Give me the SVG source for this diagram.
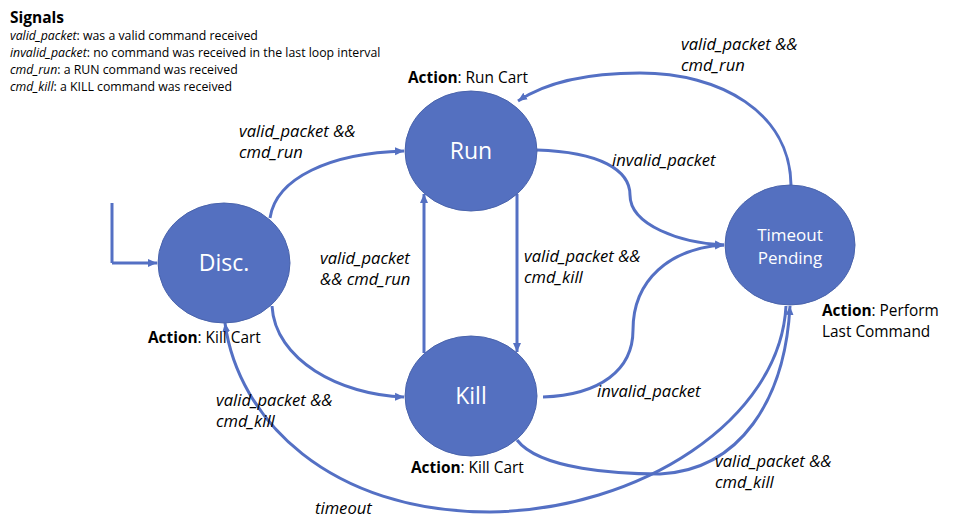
<svg xmlns="http://www.w3.org/2000/svg" width="957" height="530" viewBox="0 0 957 530">
<defs>
<marker id="arr" markerWidth="10" markerHeight="10" refX="9" refY="5" orient="auto" markerUnits="userSpaceOnUse">
<path d="M0,1 L9,5 L0,9 Z" fill="#5470C2"/>
</marker>
<style>
.node{fill:#5470C0;stroke:#4A64AC;stroke-width:1}
.nl{font-family:"Open Sans","Noto Sans","Liberation Sans",sans-serif;fill:#fff;text-anchor:middle}
.edge{fill:none;stroke:#5470C4;stroke-width:3;marker-end:url(#arr)}
.plain{fill:none;stroke:#5470C4;stroke-width:3}
.lbl{font-family:"Open Sans","Noto Sans","Liberation Sans",sans-serif;font-style:italic;font-size:16.6px;fill:#000}
.act{font-family:"Open Sans","Noto Sans","Liberation Sans",sans-serif;font-size:15.4px;fill:#000}
.sig{font-family:"Open Sans","Noto Sans","Liberation Sans",sans-serif;font-size:12.3px;fill:#000}
</style>
</defs>
<rect width="957" height="530" fill="#fff"/>

<g id="legend">
<text x="10" y="23" class="sig" style="font-size:15.5px;font-weight:bold">Signals</text>
<text x="10" y="40" class="sig"><tspan font-style="italic">valid_packet</tspan>: was a valid command received</text>
<text x="10" y="57" class="sig"><tspan font-style="italic">invalid_packet</tspan>: no command was received in the last loop interval</text>
<text x="10" y="74" class="sig"><tspan font-style="italic">cmd_run</tspan>: a RUN command was received</text>
<text x="10" y="91" class="sig"><tspan font-style="italic">cmd_kill</tspan>: a KILL command was received</text>
</g>

<g id="connectors">
<path class="plain" d="M112,203 L112,263"/>
<path class="edge" d="M112,263 L157,263"/>
<path class="edge" d="M270,218 C 276,178 330,153 404,151"/>
<path class="edge" d="M272,306 C 275,360 340,395 404,397"/>
<path class="edge" d="M424,353 L424,194"/>
<path class="edge" d="M517,194 L517,352"/>
<path class="edge" d="M537,150 C 600,152 630,170 630,195 C 630,225 680,243 724,245"/>
<path class="edge" d="M543,397 C 600,395 633,370 633,330 C 633,280 670,248 724,245"/>
<path class="edge" d="M791,185 C 790,112 720,73 640,73 C 585,73 545,83 518,101"/>
<path class="edge" d="M517,440 C 540,470 620,474 660,474 C 740,470 785,400 790,306"/>
<path class="edge" d="M786,306 C 780,420 640,510 490,512 C 330,512 238,420 225,323"/>
</g>

<g id="edge-labels">
<text class="lbl" x="239" y="137">valid_packet &amp;&amp;</text>
<text class="lbl" x="239" y="158">cmd_run</text>
<text class="lbl" x="320" y="264">valid_packet</text>
<text class="lbl" x="320" y="285">&amp;&amp; cmd_run</text>
<text class="lbl" x="524" y="262">valid_packet &amp;&amp;</text>
<text class="lbl" x="524" y="283">cmd_kill</text>
<text class="lbl" x="612" y="166">invalid_packet</text>
<text class="lbl" x="597" y="397">invalid_packet</text>
<text class="lbl" x="681" y="50">valid_packet &amp;&amp;</text>
<text class="lbl" x="681" y="71">cmd_run</text>
<text class="lbl" x="216" y="406">valid_packet &amp;&amp;</text>
<text class="lbl" x="216" y="427">cmd_kill</text>
<text class="lbl" x="715" y="467">valid_packet &amp;&amp;</text>
<text class="lbl" x="715" y="488">cmd_kill</text>
<text class="lbl" x="315" y="514">timeout</text>
</g>

<g id="disc">
<ellipse class="node" cx="224" cy="263" rx="66" ry="60"/>
<text class="nl" x="224" y="271" font-size="23">Disc.</text>
<text class="act" x="148" y="343"><tspan font-weight="bold">Action</tspan>: Kill Cart</text>
</g>

<g id="run">
<ellipse class="node" cx="471" cy="151" rx="66" ry="60"/>
<text class="nl" x="471" y="159" font-size="23">Run</text>
<text class="act" x="408" y="83"><tspan font-weight="bold">Action</tspan>: Run Cart</text>
</g>

<g id="kill">
<ellipse class="node" cx="471" cy="396" rx="66" ry="60"/>
<text class="nl" x="471" y="404" font-size="23">Kill</text>
<text class="act" x="411" y="473"><tspan font-weight="bold">Action</tspan>: Kill Cart</text>
</g>

<g id="timeout">
<ellipse class="node" cx="790" cy="245" rx="65" ry="60"/>
<text class="nl" x="790" y="241" font-size="17">Timeout</text>
<text class="nl" x="790" y="264" font-size="17">Pending</text>
<text class="act" x="822" y="316"><tspan font-weight="bold">Action</tspan>: Perform</text>
<text class="act" x="822" y="337">Last Command</text>
</g>
</svg>
